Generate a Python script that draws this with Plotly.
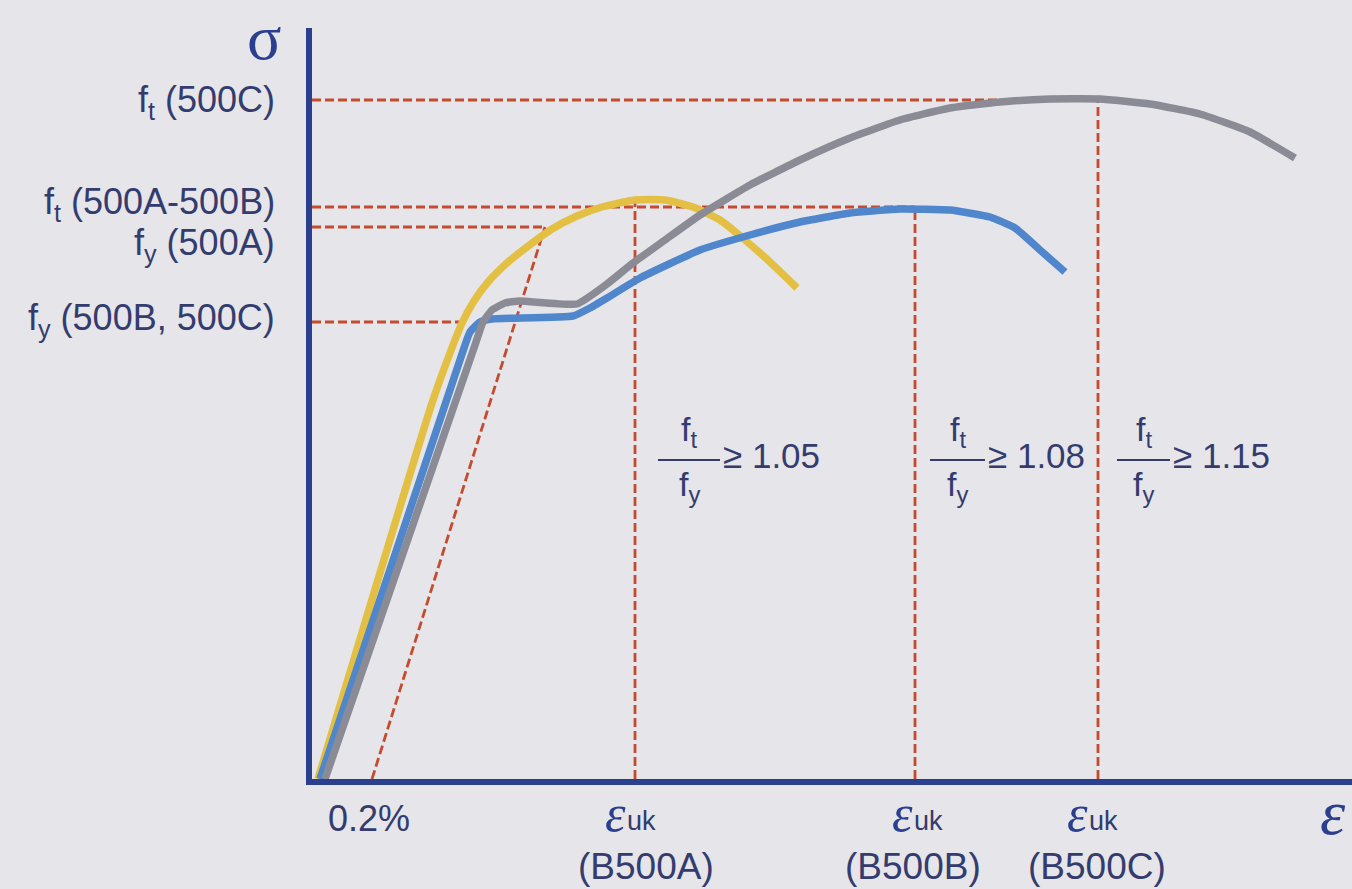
import plotly.graph_objects as go

# ---------------- data (arbitrary units) ----------------
# B500A (gold)
a_x = [6, 121, 138, 150, 162, 176, 195, 215, 240, 265, 290, 323, 353, 381, 408, 433, 458, 485]
a_y = [0, 379, 426, 456, 478, 497, 516, 532, 550, 563, 572, 579, 579, 572, 559, 539, 517, 491]
# B500B (blue)
b_x = [8, 153, 158, 168, 180, 261, 278, 295, 328, 388, 438, 488, 538, 588, 638, 678, 703, 728, 753]
b_y = [0, 434, 447, 457, 460, 463, 471, 481, 501, 529, 544, 557, 566, 570, 569, 562, 551, 529, 507]
# B500C (gray)
c_x = [13, 163, 171, 180, 193, 208, 265, 295, 321, 353, 388, 438, 488, 538, 588, 638, 688, 738, 788, 838, 888, 938, 983]
c_y = [0, 434, 457, 469, 476, 478, 475, 495, 516, 539, 564, 594, 619, 641, 659, 671, 677, 680, 680, 675, 665, 647, 621]

# characteristic stress levels
ft_C, ft_AB, fy_A, fy_BC = 679, 572, 552, 457
# characteristic strains
eps_A, eps_B, eps_C = 323, 603, 786
eps_02 = 60

stress_labels = ["f<sub>t</sub> (500C)", "f<sub>t</sub> (500A-500B)", "f<sub>y</sub> (500A)", "f<sub>y</sub> (500B, 500C)"]
stress_label_y = [677, 575, 534, 459]
class_labels = ["(B500A)", "(B500B)", "(B500C)"]
class_label_x = [334, 601, 785]
eps_sym_x = [303, 590, 765]
ratio_labels = ["≥ 1.05", "≥ 1.08", "≥ 1.15"]

# ---------------- styles ----------------
NAVY = "#343c6e"
AXIS = "#2b3f8f"
RED = "#c64a2d"
FONT = "Liberation Sans"
SERIF = "Liberation Serif"
XR, YR = 1040, 751

fig = go.Figure()

dash = "9px,4px"
ref_lines = [
    ([0, eps_C], [ft_C, ft_C]),
    ([0, eps_B], [ft_AB, ft_AB]),
    ([0, 233], [fy_A, fy_A]),
    ([0, 150], [fy_BC, fy_BC]),
    ([eps_02, 233], [0, fy_A]),
    ([eps_A, eps_A], [0, 577]),
    ([eps_B, eps_B], [0, 570]),
    ([eps_C, eps_C], [0, ft_C]),
]
for xs, ys in ref_lines:
    fig.add_trace(go.Scatter(x=xs, y=ys, mode="lines",
                             line=dict(color=RED, width=2.8, dash=dash),
                             hoverinfo="skip", showlegend=False))

for xs, ys, col, sm in [(a_x, a_y, "#e3c043", 0.6), (b_x, b_y, "#4f86cc", 0.4), (c_x, c_y, "#8b8b96", 0.4)]:
    fig.add_trace(go.Scatter(x=xs, y=ys, mode="lines",
                             line=dict(color=col, width=7.5, shape="spline", smoothing=sm),
                             showlegend=False))


def P(x, y):
    return dict(x=x / XR, y=y / YR, xref="paper", yref="paper", showarrow=False)


ann = []
for t, y in zip(stress_labels, stress_label_y):
    ann.append(dict(**P(-35, y), text=t, xanchor="right", yanchor="middle",
                    font=dict(family=FONT, size=36, color=NAVY)))
ann.append(dict(**P(-48, 779), text="σ", xanchor="center", yanchor="top",
                font=dict(family=SERIF, size=64, color=AXIS)))
ann.append(dict(**P(1006, -33), text="<i>ε</i>", xanchor="left", yanchor="middle",
                font=dict(family=SERIF, size=64, color=AXIS)))
ann.append(dict(**P(57, -39), text="0.2%", xanchor="center", yanchor="middle",
                font=dict(family=FONT, size=36, color=NAVY)))
for exs, cx, cl in zip(eps_sym_x, class_label_x, class_labels):
    ann.append(dict(**P(exs, -34), text="<i>ε</i>", xanchor="center", yanchor="middle",
                    font=dict(family=SERIF, size=52, color=AXIS)))
    ann.append(dict(**P(exs + 10, -42), text="uk", xanchor="left", yanchor="middle",
                    font=dict(family=FONT, size=27, color=NAVY)))
    ann.append(dict(**P(cx, -87), text=cl, xanchor="center", yanchor="middle",
                    font=dict(family=FONT, size=37, color=NAVY)))

bars = [(346, 408), (618, 673), (805, 858)]
shapes = []
for (x0, x1), r in zip(bars, ratio_labels):
    xc = (x0 + x1) / 2
    shapes.append(dict(type="line", x0=x0, x1=x1, y0=319, y1=319, xref="x", yref="y",
                       line=dict(color=NAVY, width=2)))
    ann.append(dict(**P(xc, 348), text="f<sub>t</sub>", xanchor="center", yanchor="middle",
                    font=dict(family=FONT, size=34, color=NAVY)))
    ann.append(dict(**P(xc, 293), text="f<sub>y</sub>", xanchor="center", yanchor="middle",
                    font=dict(family=FONT, size=34, color=NAVY)))
    ann.append(dict(**P(x1 + 1, 324), text=r, xanchor="left", yanchor="middle",
                    font=dict(family=FONT, size=35, color=NAVY)))

fig.update_layout(
    width=1352, height=889,
    margin=dict(l=312, r=0, t=28, b=110),
    paper_bgcolor="#e5e5ea", plot_bgcolor="#e5e5ea",
    annotations=ann, shapes=shapes,
    xaxis=dict(range=[0, XR], showgrid=False, zeroline=False, showticklabels=False,
               ticks="", showline=True, linecolor=AXIS, linewidth=6, fixedrange=True),
    yaxis=dict(range=[0, YR], showgrid=False, zeroline=False, showticklabels=False,
               ticks="", showline=True, linecolor=AXIS, linewidth=6, fixedrange=True),
)

fig.write_html("out.html", config={"displayModeBar": False},
               post_script="document.body.style.margin='0';document.body.style.overflow='hidden';")
